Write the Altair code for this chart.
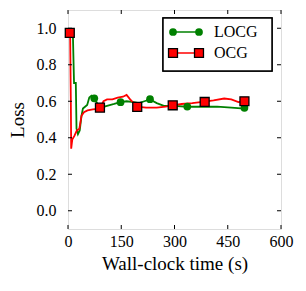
import altair as alt
import pandas as pd

# ---- data ----
locg_x = [5, 10, 14, 17, 22, 24, 28, 33, 38, 42, 48, 54, 60, 66, 74, 82, 92, 110, 130, 148,
          165, 185, 200, 215, 231, 250, 270, 300, 336, 380, 420, 460, 497]
locg_y = [0.97, 0.97, 0.95, 0.70, 0.70, 0.45, 0.42, 0.44, 0.52, 0.56, 0.57, 0.58, 0.62, 0.63,
          0.615, 0.59, 0.565, 0.575, 0.585, 0.595, 0.60, 0.595, 0.59, 0.60, 0.61, 0.59, 0.575,
          0.575, 0.57, 0.57, 0.57, 0.565, 0.56]
ocg_x = [4, 6, 8, 9, 12, 18, 25, 32, 38, 45, 55, 70, 90, 100, 110, 125, 140, 155, 165, 175,
         185, 195, 220, 250, 275, 295, 320, 350, 385, 410, 440, 460, 480, 497]
ocg_y = [0.975, 0.97, 0.60, 0.34, 0.39, 0.41, 0.44, 0.45, 0.52, 0.54, 0.55, 0.555, 0.56, 0.60,
         0.61, 0.61, 0.62, 0.625, 0.635, 0.61, 0.59, 0.57, 0.565, 0.565, 0.57, 0.578, 0.585,
         0.59, 0.598, 0.605, 0.615, 0.61, 0.595, 0.60]
locg_mx = [74, 148, 231, 336, 497]
locg_my = [0.616, 0.595, 0.611, 0.571, 0.564]
ocg_mx = [5, 90, 195, 295, 385, 497]
ocg_my = [0.975, 0.565, 0.569, 0.578, 0.596, 0.60]
series_names = ["LOCG", "OCG"]
x_ticks = [0, 150, 300, 450, 600]
y_ticks = [0.0, 0.2, 0.4, 0.6, 0.8, 1.0]

GREEN = "#008000"
RED = "#ff0000"
FONT = "Liberation Serif"
W, H = 213, 219

lines_df = pd.concat([
    pd.DataFrame({"t": locg_x, "loss": locg_y, "series": "LOCG", "o": range(len(locg_x))}),
    pd.DataFrame({"t": ocg_x, "loss": ocg_y, "series": "OCG", "o": range(len(ocg_x))}),
])
locg_m = pd.DataFrame({"t": locg_mx, "loss": locg_my})
ocg_m = pd.DataFrame({"t": ocg_mx, "loss": ocg_my})
xt = pd.DataFrame({"v": x_ticks})
yt = pd.DataFrame({"v": y_ticks})

xs = alt.Scale(domain=[0, 600], nice=False, zero=False)
ys = alt.Scale(domain=[-0.1, 1.1], nice=False, zero=False)

xaxis = alt.Axis(values=x_ticks, ticks=False, domain=False, grid=False, labelPadding=4,
                 labelFont=FONT, labelFontSize=16, labelColor="black",
                 titleFont=FONT, titleFontSize=19, titleFontWeight="normal", titleColor="black",
                 titlePadding=5, labelFlush=False)
yaxis = alt.Axis(values=y_ticks, format=".1f", ticks=False, domain=False, grid=False,
                 labelPadding=12, labelFont=FONT, labelFontSize=16, labelColor="black",
                 titleFont=FONT, titleFontSize=19, titleFontWeight="normal", titleColor="black",
                 titlePadding=9, labelFlush=False)

base_lines = alt.Chart(lines_df).mark_line(strokeWidth=1.8).encode(
    x=alt.X("t:Q", scale=xs, axis=xaxis, title="Wall-clock time (s)"),
    y=alt.Y("loss:Q", scale=ys, axis=yaxis, title="Loss"),
    color=alt.Color("series:N", scale=alt.Scale(domain=series_names, range=[GREEN, RED]), legend=None),
    order="o:Q",
    detail="series:N",
)

CIRC = 60
SQ = 80
locg_pts = alt.Chart(locg_m).mark_point(shape="circle", filled=True, size=CIRC, color=GREEN,
                                        opacity=1).encode(
    x=alt.X("t:Q", scale=xs), y=alt.Y("loss:Q", scale=ys))
ocg_pts = alt.Chart(ocg_m).mark_point(shape="square", filled=True, size=SQ, fill=RED,
                                      stroke="black", strokeWidth=1.3, opacity=1).encode(
    x=alt.X("t:Q", scale=xs), y=alt.Y("loss:Q", scale=ys))

# inward ticks on all four sides
xb = alt.Chart(xt).mark_rule(color="black", strokeWidth=1).encode(
    x=alt.X("v:Q", scale=xs), y=alt.value(H), y2=alt.value(H - 4))
xtop = alt.Chart(xt).mark_rule(color="black", strokeWidth=1).encode(
    x=alt.X("v:Q", scale=xs), y=alt.value(0), y2=alt.value(4))
yl = alt.Chart(yt).mark_rule(color="black", strokeWidth=1).encode(
    y=alt.Y("v:Q", scale=ys), x=alt.value(0), x2=alt.value(4))
yr = alt.Chart(yt).mark_rule(color="black", strokeWidth=1).encode(
    y=alt.Y("v:Q", scale=ys), x=alt.value(W), x2=alt.value(W - 4))

# legend
leg = pd.DataFrame({"name": series_names})
box = alt.Chart(leg).mark_rect(fill="white", stroke="black", strokeWidth=1.5).encode(
    x=alt.value(95), x2=alt.value(204), y=alt.value(8), y2=alt.value(61))
leg_layers = []
for name, yy, col in [("LOCG", 22, GREEN), ("OCG", 43, RED)]:
    d = alt.Chart(pd.DataFrame({"name": [name]}))
    leg_layers.append(d.mark_rule(color=col, strokeWidth=1.5).encode(
        x=alt.value(105), x2=alt.value(131), y=alt.value(yy)))
    for xx in (105, 131):
        if name == "LOCG":
            leg_layers.append(d.mark_point(shape="circle", filled=True, size=CIRC, color=GREEN,
                                           opacity=1).encode(x=alt.value(xx), y=alt.value(yy)))
        else:
            leg_layers.append(d.mark_point(shape="square", filled=True, size=SQ, fill=RED,
                                           stroke="black", strokeWidth=1.3, opacity=1).encode(
                x=alt.value(xx), y=alt.value(yy)))
    leg_layers.append(d.mark_text(align="left", baseline="middle", font=FONT, fontSize=16,
                                  color="black").encode(
        x=alt.value(146), y=alt.value(yy), text="name:N"))

chart = alt.layer(base_lines, locg_pts, ocg_pts, xb, xtop, yl, yr, box, *leg_layers).properties(
    width=W, height=H,
    padding={"left": 60, "top": 2, "right": 17, "bottom": 54},
    autosize=alt.AutoSizeParams(type="none"),
).configure_view(stroke="black", strokeWidth=1.5).configure(background="white")

chart.save("out.html", embed_options={"renderer": "svg", "actions": False})
